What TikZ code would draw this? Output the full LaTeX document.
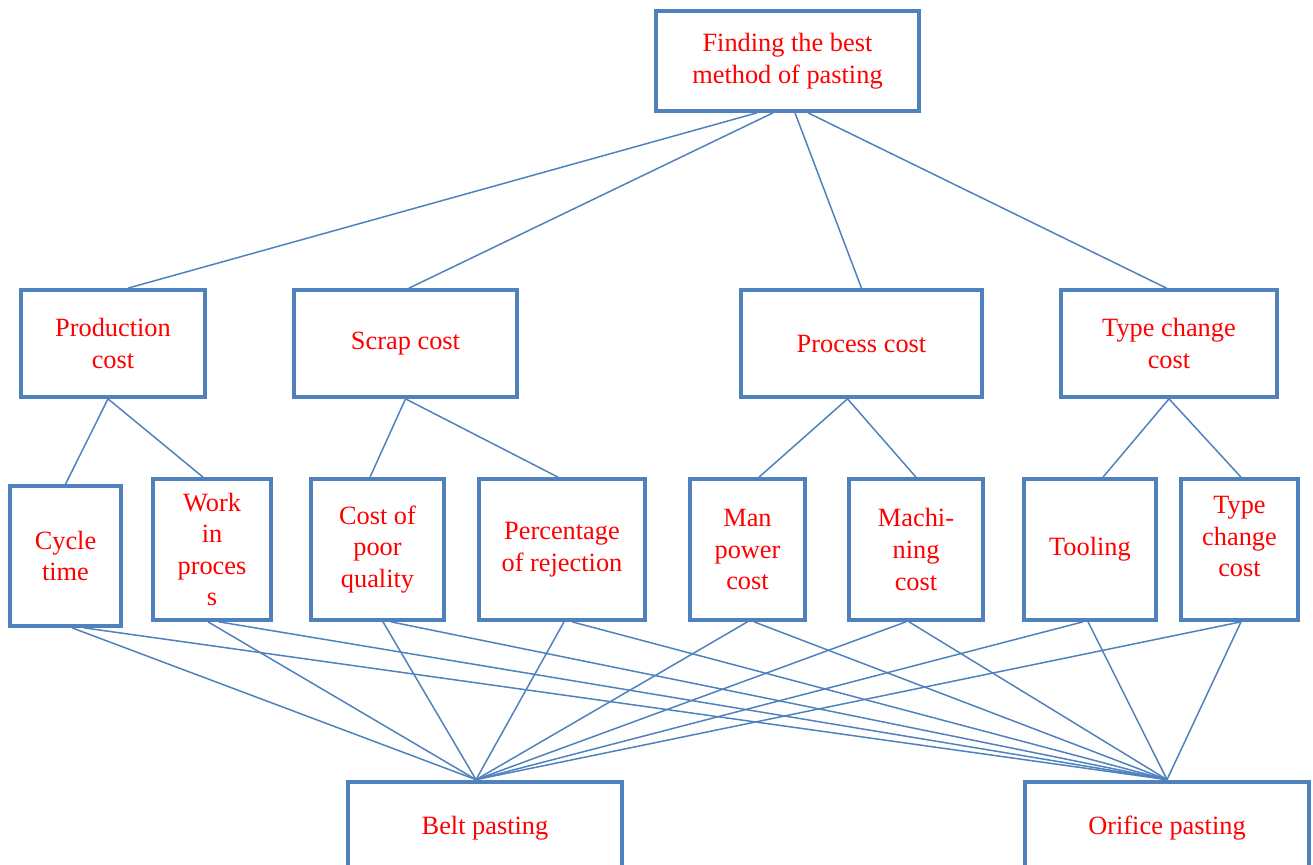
\documentclass[tikz,border=0pt]{standalone}
\usepackage{fontspec}
\setmainfont{Liberation Serif}
\definecolor{boxblue}{RGB}{79,129,189}
\newcommand{\boxfont}{\fontsize{15}{18}\selectfont}
\tikzset{
  box/.style={draw=boxblue, line width=2.4pt, text=red, align=center, inner sep=0pt, font=\boxfont},
  link/.style={draw=boxblue, line width=0.85pt}
}
\begin{document}
\begin{tikzpicture}[x=0.02cm, y=-0.02cm]
        \useasboundingbox (0,0) rectangle (1313,865);

            % goal
            \node[box, minimum width=5.25cm, minimum height=1.99cm] (top) at (787.5,61) {Finding the best\\method of pasting};

            % criteria
            \node[box, minimum width=3.68cm, minimum height=2.13cm] (prod) at (113,343.5) {Production\\cost};
            \node[box, minimum width=4.45cm, minimum height=2.13cm] (scrap) at (405.5,343.5) {Scrap cost};
            \node[box, minimum width=4.83cm, minimum height=2.13cm] (proc) at (861.5,343.5) {Process cost};
            \node[box, minimum width=4.31cm, minimum height=2.13cm] (type) at (1169,343.5) {Type change\\cost};

            % sub criteria
            \node[box, minimum width=2.21cm, minimum height=2.79cm] (cyc) at (65.5,556) {Cycle\\time};
            \node[box, minimum width=2.35cm, minimum height=2.81cm] (wip) at (212,549.5) {Work\\in\\proces\\s};
            \node[box, minimum width=2.65cm, minimum height=2.81cm] (copq) at (377.5,549.5) {Cost of\\poor\\quality};
            \node[box, minimum width=3.31cm, minimum height=2.81cm] (rej) at (562,549.5) {Percentage\\of rejection};
            \node[box, minimum width=2.29cm, minimum height=2.81cm] (man) at (747.5,549.5) {Man\\power\\cost};
            \node[box, minimum width=2.67cm, minimum height=2.81cm] (mach) at (916,549.5) {Machi-\\ning\\cost};
            \node[box, minimum width=2.63cm, minimum height=2.81cm] (tool) at (1090,549.5) {Tooling};
            \node[box, minimum width=2.33cm, minimum height=2.81cm] (tchg) at (1239.5,549.5) {Type\\change\\cost\\[-3.4pt]\mbox{}};

            % alternatives
            \node[box, minimum width=5.47cm, minimum height=1.85cm] (belt) at (485,828) {Belt pasting};
            \node[box, minimum width=5.67cm, minimum height=1.85cm] (orif) at (1167,828) {Orifice pasting};

            \draw[link] ([xshift=-0.61cm]top.south) -- ([xshift=0.3cm]prod.north);
            \draw[link] ([xshift=-0.29cm]top.south) -- ([xshift=0.07cm]scrap.north);
            \draw[link] ([xshift=0.15cm]top.south) -- (proc.north);
            \draw[link] ([xshift=0.41cm]top.south) -- ([xshift=-0.05cm]type.north);

            \draw[link] ([xshift=-0.1cm]prod.south) -- (cyc.north);
            \draw[link] ([xshift=-0.1cm]prod.south) -- ([xshift=-0.18cm]wip.north);
            \draw[link] (scrap.south) -- ([xshift=-0.15cm]copq.north);
            \draw[link] (scrap.south) -- ([xshift=-0.08cm]rej.north);
            \draw[link] ([xshift=-0.28cm]proc.south) -- ([xshift=0.23cm]man.north);
            \draw[link] ([xshift=-0.28cm]proc.south) -- (mach.north);
            \draw[link] (type.south) -- ([xshift=0.26cm]tool.north);
            \draw[link] (type.south) -- ([xshift=0.03cm]tchg.north);

            \foreach \n/\a/\b in {cyc/0.13/0.37, wip/-0.08/0.14, copq/0.11/0.27, rej/0.04/0.2,
                                  man/0/0.13, mach/-0.2/-0.14, tool/-0.14/-0.04, tchg/0.03/0.03}{
              \draw[link] ([xshift=\a cm]\n.south) -- ([xshift=-0.18cm]belt.north);
              \draw[link] ([xshift=\b cm]\n.south) -- (orif.north);
            }

        \end{tikzpicture}
\end{document}
